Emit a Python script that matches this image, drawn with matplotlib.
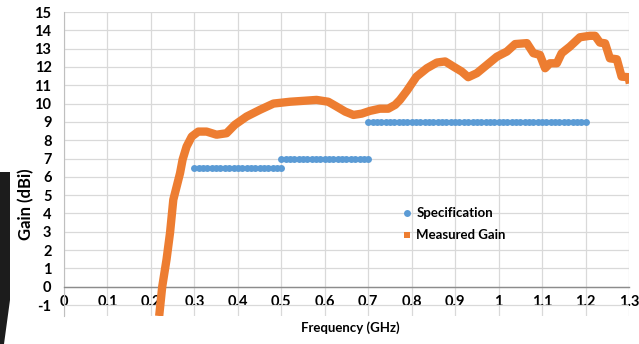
import matplotlib
matplotlib.use("Agg")
import matplotlib.pyplot as plt
from matplotlib.lines import Line2D
from matplotlib.patches import Polygon
import numpy as np

plt.rcParams['font.family'] = ['Lato', 'DejaVu Sans']
plt.rcParams['axes.unicode_minus'] = False

# Measured gain (frequency in GHz, gain in dBi)
meas_freq = [0.219, 0.226, 0.236, 0.244, 0.2515, 0.259, 0.267, 0.273, 0.282, 0.294,
             0.309, 0.328, 0.351, 0.374, 0.393, 0.420, 0.451, 0.482, 0.501, 0.520,
             0.551, 0.581, 0.608, 0.627, 0.647, 0.666, 0.685, 0.704, 0.727, 0.746,
             0.762, 0.773, 0.789, 0.811, 0.835, 0.858, 0.877, 0.896, 0.915, 0.930,
             0.950, 0.973, 0.996, 1.019, 1.038, 1.065, 1.080, 1.095, 1.107, 1.118,
             1.134, 1.145, 1.164, 1.187, 1.210, 1.222, 1.233, 1.245, 1.256, 1.272,
             1.283, 1.299, 1.302]
meas_gain = [-1.6, 0.0, 1.5, 2.95, 4.75, 5.45, 6.2, 6.95, 7.65, 8.2,
             8.47, 8.47, 8.3, 8.38, 8.84, 9.29, 9.66, 10.0, 10.05, 10.1,
             10.15, 10.2, 10.1, 9.84, 9.56, 9.38, 9.45, 9.6, 9.72, 9.72,
             9.93, 10.2, 10.7, 11.47, 11.93, 12.24, 12.3, 12.02, 11.75, 11.44,
             11.66, 12.11, 12.56, 12.84, 13.25, 13.3, 12.75, 12.66, 11.93, 12.2,
             12.2, 12.75, 13.11, 13.62, 13.7, 13.7, 13.33, 13.29, 12.47, 12.42,
             11.47, 11.44, 11.1]

# Specification segments (points every 0.01 GHz)
spec_start = [0.3, 0.5, 0.7]
spec_end = [0.5, 0.7, 1.2]
spec_level = [6.5, 7.0, 9.0]
spec_step = 0.01

x_ticks = [0, 0.1, 0.2, 0.3, 0.4, 0.5, 0.6, 0.7, 0.8, 0.9, 1, 1.1, 1.2, 1.3]
x_tick_labels = ['0', '0.1', '0.2', '0.3', '0.4', '0.5', '0.6', '0.7', '0.8', '0.9', '1', '1.1', '1.2', '1.3']
y_ticks = list(range(-1, 16))

W, H = 639, 344
fig = plt.figure(figsize=(W / 100, H / 100), dpi=100)
ax = fig.add_axes([64 / W, 1 - 316 / H, (629 - 64) / W, (316 - 12) / H])

blue = '#5B9BD5'
orange = '#ED7D31'

spec_x, spec_y = [], []
for s, e, lv in zip(spec_start, spec_end, spec_level):
    n = int(round((e - s) / spec_step)) + 1
    xs = np.linspace(s, e, n)
    spec_x.extend(xs)
    spec_y.extend([lv] * n)

ax.plot(spec_x, spec_y, linestyle='none', marker='o', markersize=5,
        color=blue, markeredgewidth=0, zorder=3)
ax.plot(meas_freq, meas_gain, color=orange, linewidth=6, solid_joinstyle='round',
        solid_capstyle='butt', zorder=4, clip_on=True)

ax.set_xlim(0, 1.3)
ax.set_ylim(-1.6, 15)
ax.set_xticks(x_ticks)
ax.set_xticklabels(x_tick_labels)
ax.set_yticks(y_ticks)
ax.grid(True, color='#d9d9d9', linewidth=0.9, zorder=0)
ax.set_axisbelow(True)

for s in ['top', 'right']:
    ax.spines[s].set_visible(False)
ax.spines['left'].set_color('#bfbfbf')
ax.spines['bottom'].set_position(('data', 0))
ax.spines['bottom'].set_color('#8c8c8c')
ax.spines['bottom'].set_linewidth(1.0)

ax.tick_params(axis='both', length=0, labelsize=10.5, colors='#000000')
ax.tick_params(axis='x', pad=6)
ax.tick_params(axis='y', pad=9)
for lbl in ax.get_xticklabels() + ax.get_yticklabels():
    lbl.set_fontweight('bold')

fig.text(350 / W, 1 - 328 / H, 'Frequency (GHz)', ha='center', va='center',
         fontsize=9.5, fontweight='bold', color='#000000')
fig.text(26 / W, 1 - 204 / H, 'Gain (dBi)', ha='center', va='center', rotation=90,
         fontsize=12, fontweight='bold', color='#000000')

handles = [Line2D([], [], linestyle='none', marker='o', markersize=5, color=blue,
                  markeredgewidth=0),
           Line2D([], [], linestyle='none', marker='s', markersize=5, color=orange,
                  markeredgewidth=0)]
leg = ax.legend(handles, ['Specification', 'Measured Gain'], loc='upper left',
                bbox_to_anchor=((398 - 64) / 565, (316 - 202) / 304), frameon=False,
                prop={'size': 9.5, 'weight': 'bold'}, handlelength=0.6,
                handletextpad=0.4, labelspacing=0.75, borderaxespad=0)

# dark artifact on left edge of the screenshot
poly = Polygon([[0, 1 - 172 / H], [10 / W, 1 - 172 / H], [10 / W, 1 - 300 / H],
                [4 / W, 0], [0, 0]], closed=True, transform=fig.transFigure,
               facecolor='#1c1c1c', edgecolor='none')
fig.patches.append(poly)

fig.savefig('out.png', dpi=100)
